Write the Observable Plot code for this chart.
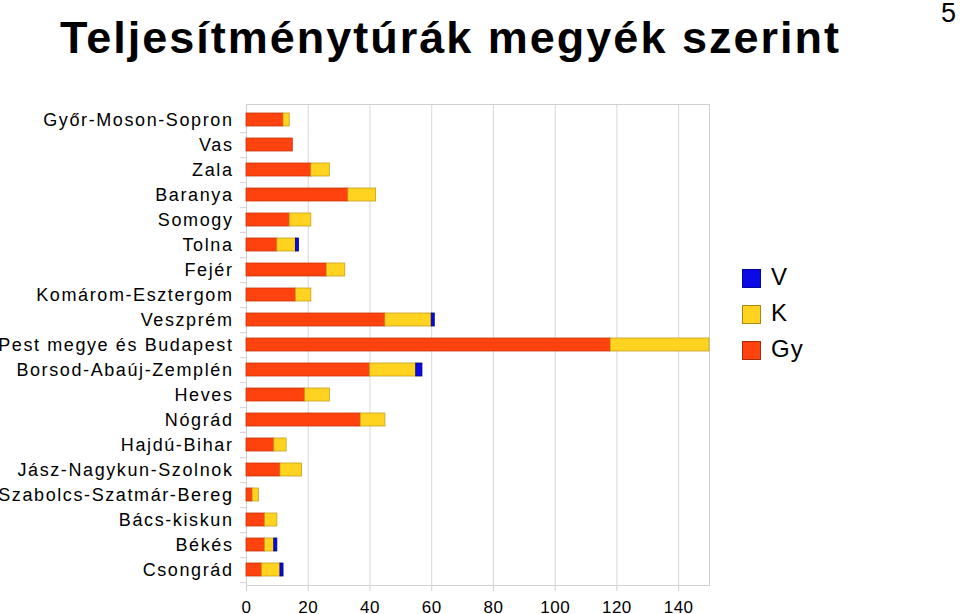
<!DOCTYPE html>
<html><head><meta charset="utf-8">
<script src="https://cdn.jsdelivr.net/npm/d3@7"></script>
<script src="https://cdn.jsdelivr.net/npm/@observablehq/plot@0.6"></script>
<style>
html,body{margin:0;padding:0;background:#fff;}
#wrap{position:relative;width:960px;height:614px;overflow:hidden;font-family:"Liberation Sans",Arial,sans-serif;}
#title{position:absolute;left:60px;top:12px;font-size:45px;font-weight:bold;color:#000;white-space:nowrap;letter-spacing:2px;}
#page{position:absolute;left:941px;top:-2px;font-size:27px;color:#000;}
#legend{position:absolute;left:742px;top:267px;}
.li{position:relative;height:36px;}
.sw{position:absolute;left:0;top:2px;width:19px;height:19px;box-sizing:border-box;border:1px solid rgba(0,0,0,0.35);}
.lt{position:absolute;left:29px;top:-4px;font-size:24px;color:#000;letter-spacing:1px;}
#chart{position:absolute;left:0;top:0;}
.cc g[aria-label="y-axis tick label"] text{letter-spacing:1.6px;}
.cc g[aria-label="x-axis tick label"] text{letter-spacing:0.5px;}
</style></head>
<body><div id="wrap">
<div id="chart"></div>
<div id="title">Teljesítménytúrák megyék szerint</div>
<div id="page">5</div>
<div id="legend"></div>
</div>
<script>
const counties = ["Győr-Moson-Sopron","Vas","Zala","Baranya","Somogy","Tolna","Fejér","Komárom-Esztergom","Veszprém","Pest megye és Budapest","Borsod-Abaúj-Zemplén","Heves","Nógrád","Hajdú-Bihar","Jász-Nagykun-Szolnok","Szabolcs-Szatmár-Bereg","Bács-kiskun","Békés","Csongrád"];
const gy = [12,15,21,33,14,10,26,16,45,118,40,19,37,9,11,2,6,6,5];
const k  = [2,0,6,9,7,6,6,5,15,32,15,8,8,4,7,2,4,3,6];
const v  = [0,0,0,0,0,1,0,0,1,0,2,0,0,0,0,0,0,1,1];
const seriesNames = ["Gy","K","V"];
const seriesColors = ["#ff420e","#ffd320","#0a0ae6"];
const strokeColors = ["#c9340b","#c2a01a","#00007a"];
const xTicks = [0,20,40,60,80,100,120,140];

const rows = [];
counties.forEach((c,i)=>{
  [gy[i],k[i],v[i]].forEach((val,j)=>{ if(val>0) rows.push({county:c, series:seriesNames[j], value:val}); });
});

const chart = Plot.plot({
  width:960, height:614,
  className:"cc",
  marginLeft:246, marginRight:251, marginTop:104, marginBottom:29,
  style:{fontFamily:"'Liberation Sans', Arial, sans-serif", background:"#fff"},
  x:{domain:[0,150], ticks:xTicks},
  y:{domain:counties, paddingInner:0.48, paddingOuter:0.24},
  color:{domain:seriesNames, range:seriesColors},
  marks:[
    Plot.gridX(xTicks, {stroke:"#d8d8d8", strokeOpacity:1}),
    Plot.frame({stroke:"#d0d0d0"}),
    Plot.axisX({ticks:xTicks, tickSize:6, tickPadding:9, stroke:"#d0d0d0", fontSize:17, fill:"#000", label:null, tickFormat:d=>String(d)}),
    Plot.axisY({tickSize:0, tickPadding:13, fontSize:18, fill:"#000", label:null}),
    Plot.axisY({tickSize:6, text:null, stroke:"#d0d0d0", dy:12.65, label:null}),
    Plot.barX(rows, Plot.stackX({x:"value", y:"county", fill:"series", order:seriesNames,
      stroke:d=>strokeColors[seriesNames.indexOf(d.series)], strokeWidth:0.8}))
  ]
});
document.getElementById("chart").appendChild(chart);

const leg = document.getElementById("legend");
[["V",seriesColors[2]],["K",seriesColors[1]],["Gy",seriesColors[0]]].forEach(([n,c])=>{
  const d=document.createElement("div"); d.className="li";
  d.innerHTML=`<div class="sw" style="background:${c}"></div><div class="lt">${n}</div>`;
  leg.appendChild(d);
});
</script>
</body></html>
